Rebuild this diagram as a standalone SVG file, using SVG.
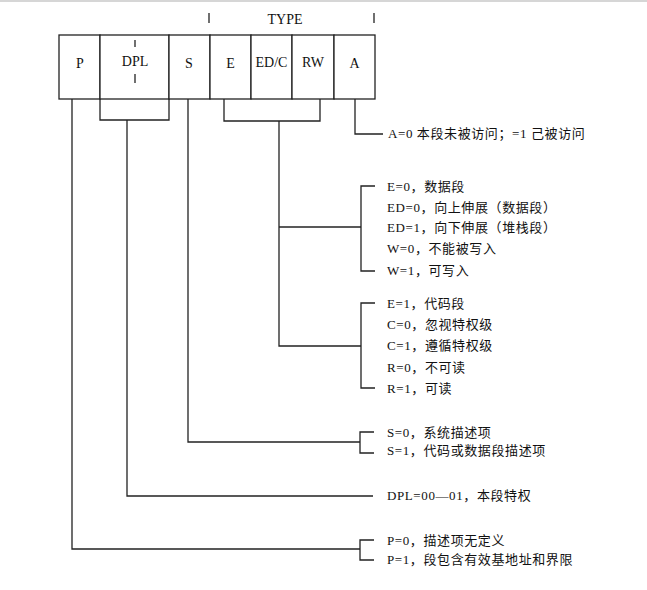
<svg xmlns="http://www.w3.org/2000/svg" width="647" height="590" viewBox="0 0 647 590">
<style>
.bg{fill:#fff}
.frame{stroke:#c8c8c8;stroke-width:1.5;fill:none}
.box{fill:#fff;stroke:#222;stroke-width:1.3}
.ln{fill:none;stroke:#222;stroke-width:1.3}
.lbl{font-family:"Liberation Serif","Noto Sans CJK SC",serif;font-size:14px;fill:#111;text-anchor:middle}
.note{font-family:"Liberation Serif","Noto Sans CJK SC",serif;font-size:13px;letter-spacing:0.6px;fill:#111}
</style>
<rect class="bg" x="0" y="0" width="647" height="590"/>
<line class="frame" x1="0" y1="1" x2="647" y2="1"/>

<g id="type-header">
  <text class="lbl" x="285" y="24">TYPE</text>
  <line class="ln" x1="209" y1="13" x2="209" y2="23"/>
  <line class="ln" x1="374" y1="13" x2="374" y2="23"/>
</g>

<g id="field-P"><rect class="box" x="59" y="35" width="41" height="64"/><text class="lbl" x="80" y="68">P</text></g>
<g id="field-DPL"><rect class="box" x="100" y="35" width="69" height="64"/><text class="lbl" x="135" y="66">DPL</text>
  <line class="ln" x1="135" y1="40" x2="135" y2="47"/><line class="ln" x1="135" y1="74" x2="135" y2="83"/></g>
<g id="field-S"><rect class="box" x="169" y="35" width="41" height="64"/><text class="lbl" x="189" y="68">S</text></g>
<g id="field-E"><rect class="box" x="210" y="35" width="41" height="64"/><text class="lbl" x="230.5" y="68">E</text></g>
<g id="field-EDC"><rect class="box" x="251" y="35" width="41" height="64"/><text class="lbl" x="271.5" y="67">ED/C</text></g>
<g id="field-RW"><rect class="box" x="292" y="35" width="42" height="64"/><text class="lbl" x="313" y="67">RW</text></g>
<g id="field-A"><rect class="box" x="334" y="35" width="41" height="64"/><text class="lbl" x="354.5" y="68">A</text></g>

<g id="connectors">
  <path class="ln" d="M355,99 V134 H383"/>
  <path class="ln" d="M224,99 V121 H320 V99"/>
  <path class="ln" d="M279,121 V346 H361"/>
  <path class="ln" d="M279,227 H361"/>
  <path class="ln" d="M375,186 H361 V271 H375"/>
  <path class="ln" d="M375,303 H361 V388 H375"/>
  <path class="ln" d="M188,99 V442 H360"/>
  <path class="ln" d="M374,432 H360 V453 H374"/>
  <path class="ln" d="M100,99 V120 H169 V99"/>
  <path class="ln" d="M127,120 V496 H373"/>
  <path class="ln" d="M72,99 V549 H360"/>
  <path class="ln" d="M374,540 H360 V560 H374"/>
</g>

<g id="note-A"><text class="note" x="388" y="138">A=0 本段未被访问；=1 己被访问</text></g>
<g id="note-data">
  <text class="note" x="387" y="190.5">E=0，数据段</text>
  <text class="note" x="387" y="211.5">ED=0，向上伸展（数据段）</text>
  <text class="note" x="387" y="232">ED=1，向下伸展（堆栈段）</text>
  <text class="note" x="387" y="253">W=0，不能被写入</text>
  <text class="note" x="387" y="274.5">W=1，可写入</text>
</g>
<g id="note-code">
  <text class="note" x="387" y="307.5">E=1，代码段</text>
  <text class="note" x="387" y="329">C=0，忽视特权级</text>
  <text class="note" x="387" y="350">C=1，遵循特权级</text>
  <text class="note" x="387" y="371.5">R=0，不可读</text>
  <text class="note" x="387" y="392.5">R=1，可读</text>
</g>
<g id="note-S">
  <text class="note" x="387" y="436.5">S=0，系统描述项</text>
  <text class="note" x="387" y="455">S=1，代码或数据段描述项</text>
</g>
<g id="note-DPL"><text class="note" x="387" y="499.5">DPL=00—01，本段特权</text></g>
<g id="note-P">
  <text class="note" x="387" y="544.5">P=0，描述项无定义</text>
  <text class="note" x="387" y="563.5">P=1，段包含有效基地址和界限</text>
</g>
</svg>
